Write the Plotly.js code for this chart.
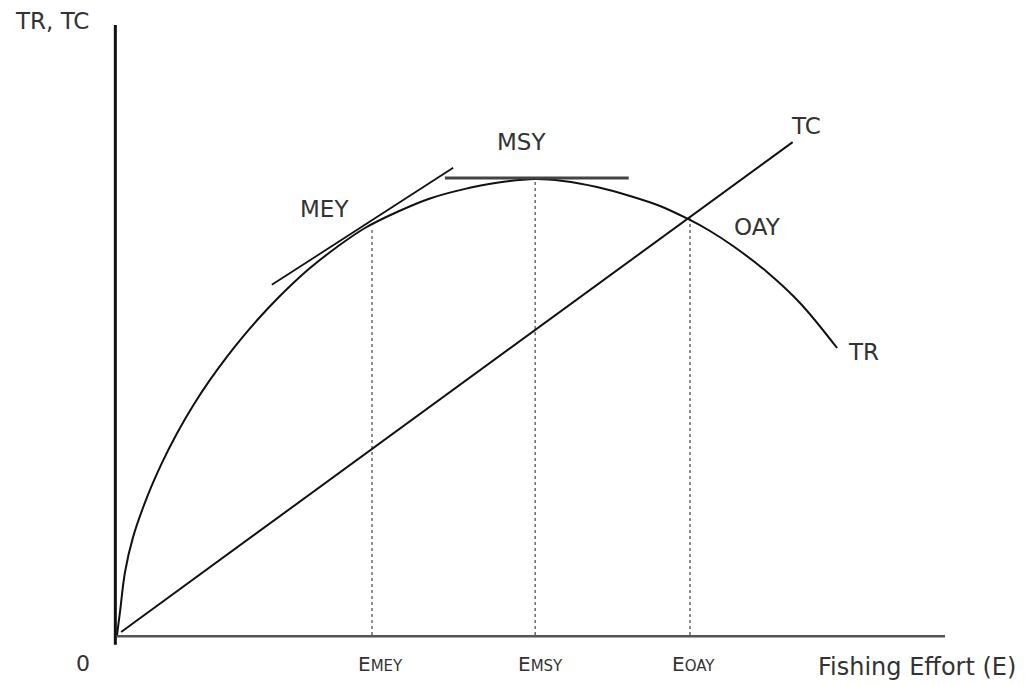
<!DOCTYPE html>
<html>
<head>
<meta charset="utf-8">
<script src="https://cdn.plot.ly/plotly-3.0.1.min.js"></script>
<style>html,body{margin:0;padding:0;background:#fff;}#chart{width:1026px;height:685px;}</style>
</head>
<body>
<div id="chart"></div>
<script>
// Total revenue curve (fishing effort vs revenue, arbitrary units)
var trEffort = [0, 0.36, 0.97, 1.93, 3.62, 5.43, 7.25, 9.18, 11.23, 13.29, 15.22, 17.27, 19.32, 21.26, 23.31, 26.57, 29.95, 33.82, 37.80, 41.79, 45.89, 50.48, 53.86, 57.97, 61.96, 65.58, 68.96, 71.62, 74.40, 78.50, 82.49, 86.96];
var trRevenue = [0, 3.77, 10.33, 16.0, 22.56, 28.21, 33.08, 37.59, 41.82, 45.64, 48.92, 52.13, 55.08, 57.66, 60.16, 63.61, 66.72, 69.34, 71.56, 73.05, 74.13, 74.75, 74.43, 73.44, 71.97, 70.33, 68.20, 66.23, 63.77, 59.51, 54.43, 47.05];
// Total cost line
var tcEffort = [0.5, 81.6];
var tcCost = [0.5, 80.8];
// Tangent at MEY (slope = TC slope)
var meyTangentEffort = [18.7, 40.6];
var meyTangentValue = [57.4, 76.6];
// Horizontal tangent at MSY
var msyTangentEffort = [39.6, 61.8];
var msyTangentValue = [74.9, 74.9];
// Reference effort levels and the revenue at each
var effortLevels = [30.8, 50.5, 69.2];
var effortLevelRevenue = [66.8, 74.6, 68.4];
var effortLabels = ["E<span style='font-size:15px'>MEY</span>", "E<span style='font-size:15px'>MSY</span>", "E<span style='font-size:15px'>OAY</span>"];
// Curve / point labels
var pointLabels = ["MEY", "MSY", "OAY", "TC", "TR"];
var axisLabels = ["TR, TC", "Fishing Effort (E)", "0"];

var traces = [];
// axes
traces.push({x:[-0.2,-0.2], y:[-1.6,100], mode:'lines', line:{color:'#111', width:3}, hoverinfo:'skip'});
traces.push({x:[0,100], y:[-0.2,-0.2], mode:'lines', line:{color:'#555', width:2.5}, hoverinfo:'skip'});
// dotted verticals
for (var i=0;i<effortLevels.length;i++){
  traces.push({x:[effortLevels[i], effortLevels[i]], y:[0, effortLevelRevenue[i]], mode:'lines', line:{color:'#444', width:1.2, dash:'dot'}, hoverinfo:'skip'});
}
traces.push({x:trEffort, y:trRevenue, mode:'lines', line:{color:'#111', width:2, shape:'spline', smoothing:1}, hoverinfo:'skip'});
traces.push({x:tcEffort, y:tcCost, mode:'lines', line:{color:'#111', width:2}, hoverinfo:'skip'});
traces.push({x:meyTangentEffort, y:meyTangentValue, mode:'lines', line:{color:'#111', width:1.8}, hoverinfo:'skip'});
traces.push({x:msyTangentEffort, y:msyTangentValue, mode:'lines', line:{color:'#444', width:3}, hoverinfo:'skip'});

var F = 'DejaVu Sans, sans-serif';
var tc = '#333';
function ann(text, x, y, xanchor, size){
  return {text:text, x:x, y:y, xref:'x', yref:'y', showarrow:false, xanchor:xanchor||'center', yanchor:'middle', font:{family:F, size:size||23, color:tc}};
}
var annotations = [
  ann(axisLabels[0], -12.56, 100.6, 'left', 23),
  ann(axisLabels[1], 84.4, -5.3, 'left', 24),
  ann(axisLabels[2], -4.1, -4.6, 'center', 22),
  ann(pointLabels[0], 25.1, 69.8, 'center', 23),
  ann(pointLabels[1], 48.9, 80.8, 'center', 23),
  ann(pointLabels[2], 77.4, 66.9, 'center', 23),
  ann(pointLabels[3], 83.2, 83.4, 'center', 23),
  ann(pointLabels[4], 90.1, 46.4, 'center', 23)
];
var labelX = [31.8, 51.1, 69.6];
for (var j=0;j<effortLabels.length;j++){
  annotations.push(ann(effortLabels[j], labelX[j], -4.8, 'center', 20));
}

var layout = {
  width:1026, height:685,
  margin:{l:0, r:0, t:0, b:0},
  paper_bgcolor:'#fff', plot_bgcolor:'#fff',
  showlegend:false,
  xaxis:{range:[-14.13, 109.78], visible:false, fixedrange:true},
  yaxis:{range:[-8.197, 104.098], visible:false, fixedrange:true},
  annotations:annotations
};
Plotly.newPlot('chart', traces, layout, {displayModeBar:false, staticPlot:true});
</script>
</body>
</html>
